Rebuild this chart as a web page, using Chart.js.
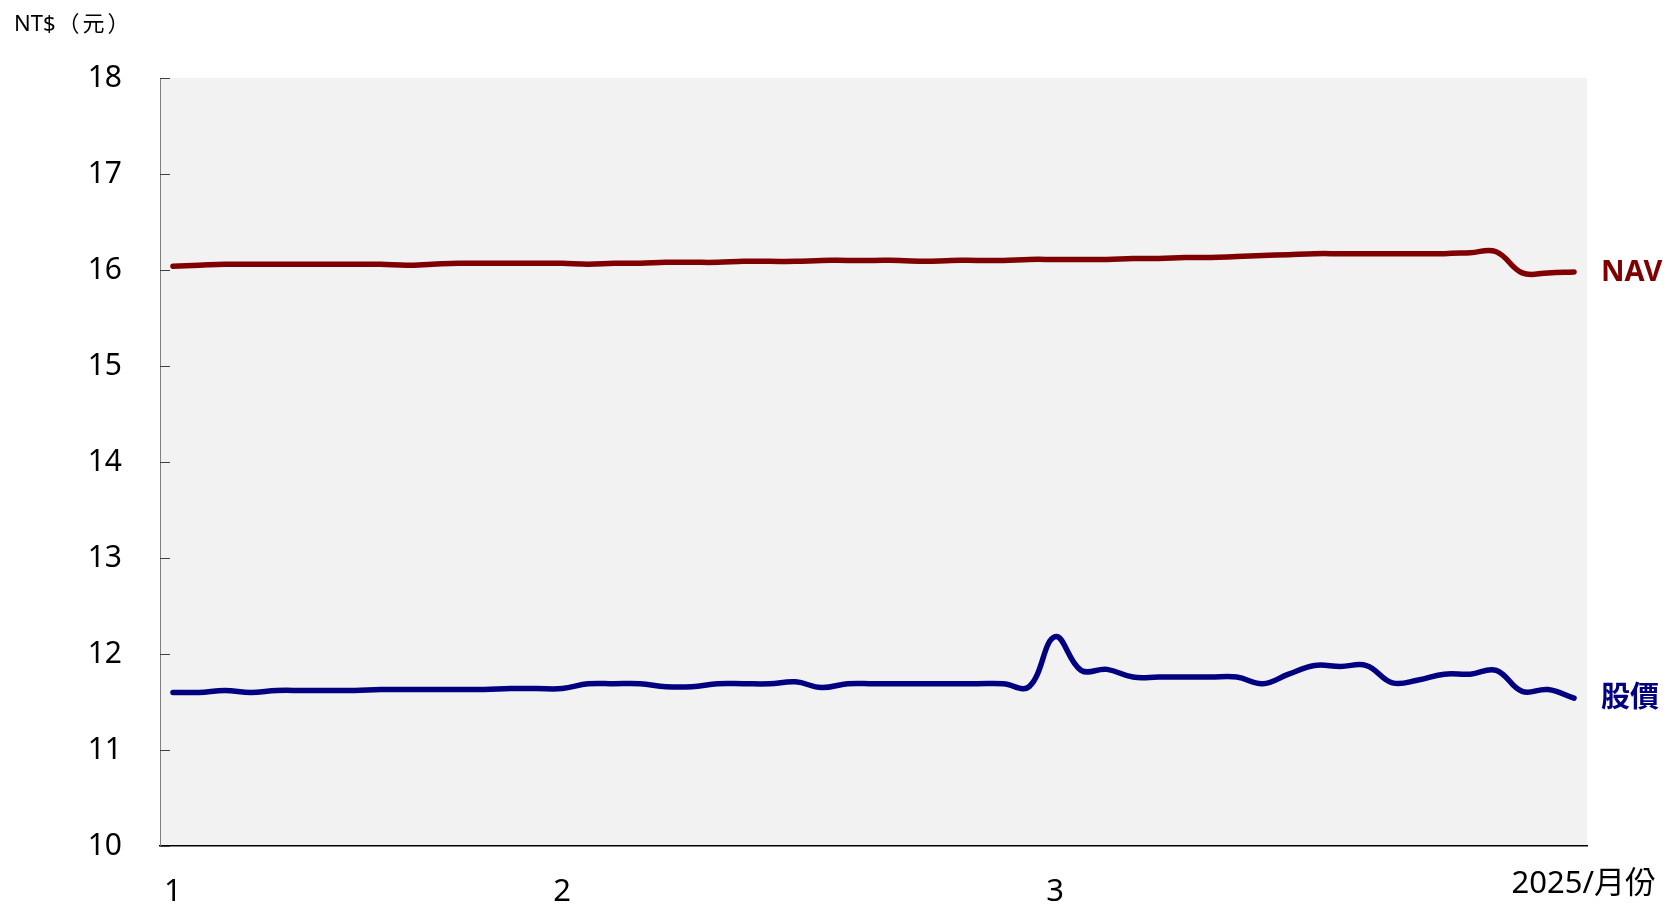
<!DOCTYPE html>
<html lang="zh-Hant">
<head>
<meta charset="utf-8">
<title>NAV / 股價</title>
<script src="https://cdn.jsdelivr.net/npm/chart.js@4.4.1/dist/chart.umd.min.js"></script>
<style>
  html, body { margin: 0; padding: 0; background: #fff; }
  #box { width: 1667px; height: 905px; }
</style>
</head>
<body>
<div id="box"><canvas id="navChart" width="1667" height="905"></canvas></div>
<script>
// trading days, 2025 (Jan-Mar)
const tradeDays = [
  "1/2", "1/3", "1/6", "1/7", "1/8", "1/9", "1/10", "1/13", "1/14", "1/15",
  "1/16", "1/17", "1/20", "1/21", "1/22",
  "2/3", "2/4", "2/5", "2/6", "2/7", "2/10", "2/11", "2/12", "2/13", "2/14",
  "2/17", "2/18", "2/19", "2/20", "2/21", "2/24", "2/25", "2/26", "2/27",
  "3/3", "3/4", "3/5", "3/6", "3/7", "3/10", "3/11", "3/12", "3/13", "3/14",
  "3/17", "3/18", "3/19", "3/20", "3/21", "3/24", "3/25", "3/26", "3/27", "3/28", "3/31"
];

const navValues = [
  16.04, 16.05, 16.06, 16.06, 16.06, 16.06, 16.06, 16.06, 16.06, 16.05,
  16.06, 16.07, 16.07, 16.07, 16.07,
  16.07, 16.06, 16.07, 16.07, 16.08, 16.08, 16.08, 16.09, 16.09, 16.09,
  16.10, 16.10, 16.10, 16.10, 16.09, 16.10, 16.10, 16.10, 16.11,
  16.11, 16.11, 16.11, 16.12, 16.12, 16.13, 16.13, 16.14, 16.15, 16.16,
  16.17, 16.17, 16.17, 16.17, 16.17, 16.17, 16.18, 16.19, 15.97, 15.97, 15.98
];

const priceValues = [
  11.60, 11.60, 11.62, 11.60, 11.62, 11.62, 11.62, 11.62, 11.63, 11.63,
  11.63, 11.63, 11.63, 11.64, 11.64,
  11.64, 11.69, 11.69, 11.69, 11.66, 11.66, 11.69, 11.69, 11.69, 11.71,
  11.65, 11.69, 11.69, 11.69, 11.69, 11.69, 11.69, 11.69, 11.66,
  12.18, 11.83, 11.84, 11.76, 11.76, 11.76, 11.76, 11.76, 11.69, 11.79,
  11.88, 11.87, 11.88, 11.70, 11.73, 11.79, 11.79, 11.83, 11.61, 11.63, 11.54
];

const seriesNames = ["NAV", "股價"];
const seriesColors = ["#800000", "#000080"];
const unitCurrency = "NT$";
const unitName = "（元）";
const xAxisTitle = "2025/月份";

const FONT = '"Noto Sans", "Noto Sans CJK TC", sans-serif';

// month number on the first trading day of each month
function monthLabel(i) {
  const m = tradeDays[i].split("/")[0];
  if (i === 0 || tradeDays[i - 1].split("/")[0] !== m) return m;
  return "";
}

const decorPlugin = {
  id: "decor",
  beforeDraw(chart) {
    const { ctx, chartArea } = chart;
    ctx.save();
    ctx.fillStyle = "#f2f2f2";
    ctx.fillRect(chartArea.left, chartArea.top,
      chartArea.right - chartArea.left, chartArea.bottom - chartArea.top);
    ctx.restore();
  },
  beforeDatasetsDraw(chart) {
    // small ticks pointing into the plot
    const { ctx, chartArea } = chart;
    const y = chart.scales.y;
    ctx.save();
    ctx.strokeStyle = "#404040";
    ctx.lineWidth = 1;
    y.ticks.forEach((t) => {
      const py = Math.round(y.getPixelForValue(t.value)) + 0.5;
      ctx.beginPath();
      ctx.moveTo(chartArea.left, py);
      ctx.lineTo(chartArea.left + 10, py);
      ctx.stroke();
    });
    ctx.restore();
  },
  afterDraw(chart) {
    const { ctx, chartArea } = chart;
    ctx.save();
    // unit
    ctx.fillStyle = "#000";
    ctx.font = `22px ${FONT}`;
    ctx.textAlign = "left";
    ctx.textBaseline = "middle";
    ctx.fillText(unitCurrency, 14, 25);
    const w = ctx.measureText(unitCurrency).width;
    ctx.letterSpacing = "3px";
    ctx.fillText(unitName, 14 + w + 2, 25);
    ctx.letterSpacing = "0px";
    // x axis title
    ctx.font = `31px ${FONT}`;
    ctx.textAlign = "right";
    ctx.fillText(xAxisTitle, 1656, 884);
    // series labels beside last points
    ctx.font = `bold 29px ${FONT}`;
    ctx.textAlign = "left";
    chart.data.datasets.forEach((ds, i) => {
      const meta = chart.getDatasetMeta(i);
      const last = meta.data[meta.data.length - 1];
      ctx.fillStyle = seriesColors[i];
      ctx.fillText(seriesNames[i], chartArea.right + 14, last.y + 1);
    });
    ctx.restore();
  },
};

const ctx = document.getElementById("navChart").getContext("2d");

new Chart(ctx, {
  type: "line",
  data: {
    labels: tradeDays,
    datasets: [
      {
        label: seriesNames[0],
        data: navValues,
        borderColor: seriesColors[0],
        borderWidth: 5.5,
        tension: 0.4,
        pointRadius: 0,
        borderCapStyle: "round",
        borderJoinStyle: "round",
      },
      {
        label: seriesNames[1],
        data: priceValues,
        borderColor: seriesColors[1],
        borderWidth: 5.5,
        tension: 0.4,
        pointRadius: 0,
        borderCapStyle: "round",
        borderJoinStyle: "round",
      },
    ],
  },
  options: {
    responsive: false,
    animation: false,
    layout: {
      padding: { left: 0, top: 78, right: 80, bottom: 0 },
    },
    plugins: {
      legend: { display: false },
      tooltip: { enabled: false },
    },
    scales: {
      x: {
        type: "category",
        offset: true,
        afterFit(scale) {
          scale.height = 59;
        },
        grid: { display: false, drawTicks: false },
        border: { display: true, color: "#000", width: 1.5 },
        ticks: {
          autoSkip: false,
          maxRotation: 0,
          padding: 28,
          color: "#000",
          font: { family: FONT, size: 31 },
          callback: function (value, index) {
            return monthLabel(index);
          },
        },
      },
      y: {
        min: 10,
        max: 18,
        afterFit(scale) {
          scale.width = 160;
        },
        grid: { display: false, drawTicks: false },
        border: { display: true, color: "#7f7f7f", width: 1 },
        ticks: {
          stepSize: 1,
          padding: 38,
          color: "#000",
          font: { family: FONT, size: 30 },
        },
      },
    },
  },
  plugins: [decorPlugin],
});
</script>
</body>
</html>
